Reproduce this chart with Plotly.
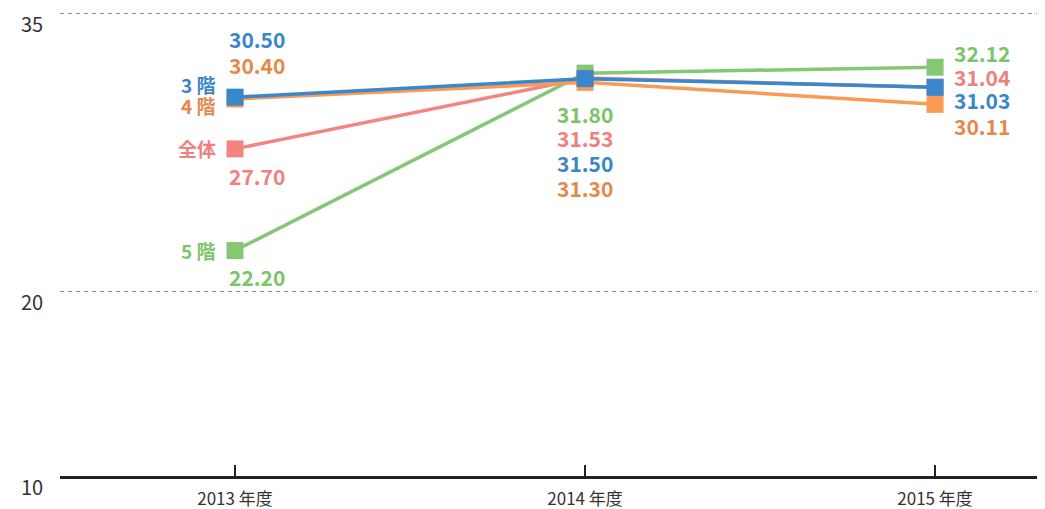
import plotly.graph_objects as go

years = ["2013 年度", "2014 年度", "2015 年度"]
names = ["5 階", "全体", "4 階", "3 階"]
f5 = [22.20, 31.80, 32.12]
zentai = [27.70, 31.53, 31.04]
f4 = [30.40, 31.30, 30.11]
f3 = [30.50, 31.50, 31.03]
y_ticks = [10, 20, 35]

series = [f5, zentai, f4, f3]
line_colors = ["#84c874", "#f28582", "#f99a55", "#3a88cb"]
text_colors = ["#7cc46c", "#f08080", "#e4884c", "#3a86c8"]
# label offsets (pixels): name label yshift at 2013, value label yshifts at 2013/2014/2015
name_dy = [0, 0, -6, 13]
val_dy = [[-26, -41, 14], [-27, -60, 10], [34, -106, -22], [58, -84, -13]]

xs = list(range(len(years)))
fig = go.Figure()
for vals, lc in zip(series, line_colors):
    fig.add_trace(go.Scatter(
        x=xs, y=vals, mode="lines+markers",
        line=dict(color=lc, width=3.5),
        marker=dict(symbol="square", size=17, color=lc),
        hoverinfo="skip", showlegend=False))

FONT = "Noto Sans CJK JP"
ann = []
for vals, nm, tc, nd, vd in zip(series, names, text_colors, name_dy, val_dy):
    ann.append(dict(x=0, y=vals[0], xref="x", yref="y", text=f"<b>{nm}</b>",
                    showarrow=False, xanchor="right", yanchor="middle",
                    xshift=-17, yshift=nd, font=dict(color=tc, size=19, family=FONT)))
    for i, v in enumerate(vals):
        if i == 0:
            xa, xsft = "left", -8
        elif i == 1:
            xa, xsft = "center", 0
        else:
            xa, xsft = "left", 17
        ann.append(dict(x=i, y=v, xref="x", yref="y", text=f"<b>{v:.2f}</b>",
                        showarrow=False, xanchor=xa, yanchor="middle",
                        xshift=xsft, yshift=vd[i],
                        font=dict(color=tc, size=21, family=FONT)))

# y-axis tick labels (drawn below their grid lines, as in the reference)
for t in y_ticks:
    ann.append(dict(x=0, y=t, xref="paper", yref="y", text=str(t),
                    showarrow=False, xanchor="right", yanchor="middle",
                    xshift=-15, yshift=-10,
                    font=dict(color="#333333", size=20, family=FONT)))

fig.update_layout(
    width=1037, height=501,
    margin=dict(l=52, r=0, t=3, b=33, autoexpand=False),
    paper_bgcolor="white", plot_bgcolor="white",
    font=dict(family=FONT, color="#333333"),
    annotations=ann,
    xaxis=dict(
        range=[-0.5, 2.314], tickvals=xs, ticktext=years,
        showgrid=False, zeroline=False, automargin=False,
        showline=True, linecolor="#222222", linewidth=2.5,
        ticks="inside", ticklen=11, tickwidth=2, tickcolor="#222222",
        tickfont=dict(size=17, color="#333333"),
        ticklabelstandoff=6,
    ),
    yaxis=dict(
        range=[10, 35.162], tickvals=y_ticks, showticklabels=False,
        showgrid=True, gridcolor="#8a8a8a", gridwidth=1, griddash="4px,4px",
        zeroline=False, showline=False, automargin=False,
    ),
)
fig.write_html("out.html")
